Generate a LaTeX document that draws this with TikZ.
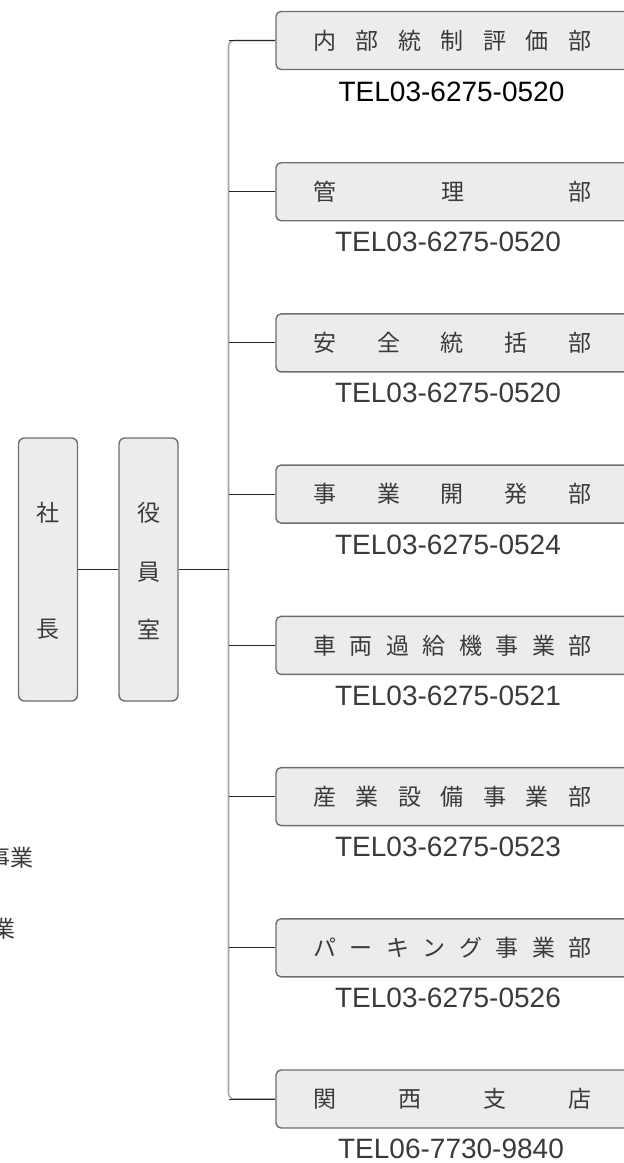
\documentclass[tikz,border=0pt]{standalone}
\usepackage{fontspec}
\setmainfont{Noto Sans CJK JP}
\newfontfamily\telfont{Liberation Sans}
\definecolor{txt}{HTML}{3A3A3A}
\definecolor{boxfill}{HTML}{EDECEA}
\definecolor{boxline}{HTML}{6E6E6E}
\definecolor{trunkc}{HTML}{A8A8A8}
\newcommand\spreadtext[1]{\makebox[364pt][l]{\hspace{37.5pt}\makebox[278pt][s]{#1}}}
\tikzset{
  dept/.style={draw=boxline, line width=1.4pt, fill=boxfill, rounded corners=5pt,
    minimum width=364pt, minimum height=58pt, inner sep=0pt, text=txt,
    font=\fontsize{23pt}{23pt}\selectfont},
  tall/.style={draw=boxline, line width=1.4pt, fill=boxfill, rounded corners=6pt,
    minimum width=59pt, minimum height=263pt, inner sep=0pt},
  chr/.style={text=txt, inner sep=0pt, font=\fontsize{23pt}{23pt}\selectfont},
  tel/.style={text=txt, inner sep=0pt, font=\telfont\fontsize{28pt}{28pt}\selectfont},
  conn/.style={draw=black!85, line width=0.9pt},
  trunk/.style={draw=trunkc, line width=1.6pt, rounded corners=6pt},
}
\begin{document}
\begin{tikzpicture}[x=1pt,y=-1pt]
\useasboundingbox (0,0) rectangle (624,1163);
\clip (0,0) rectangle (624,1163);
% right column boxes
\node[dept] (b1) at (458,40.5) {\spreadtext{内\hfil 部\hfil 統\hfil 制\hfil 評\hfil 価\hfil 部}};
\node[dept] (b2) at (458,191.7) {\spreadtext{管\hfil 理\hfil 部}};
\node[dept] (b3) at (458,342.9) {\spreadtext{安\hfil 全\hfil 統\hfil 括\hfil 部}};
\node[dept] (b4) at (458,494.1) {\spreadtext{事\hfil 業\hfil 開\hfil 発\hfil 部}};
\node[dept] (b5) at (458,645.4) {\spreadtext{車\hfil 両\hfil 過\hfil 給\hfil 機\hfil 事\hfil 業\hfil 部}};
\node[dept] (b6) at (458,796.6) {\spreadtext{産\hfil 業\hfil 設\hfil 備\hfil 事\hfil 業\hfil 部}};
\node[dept] (b7) at (458,947.8) {\spreadtext{パ\hfil ー\hfil キ\hfil ン\hfil グ\hfil 事\hfil 業\hfil 部}};
\node[dept] (b8) at (458,1099) {\spreadtext{関\hfil 西\hfil 支\hfil 店}};
% phone numbers
\node[tel, text=black] (t1) at (451.5,92) {TEL03-6275-0520};
\node[tel] (t2) at (448,241.5) {TEL03-6275-0520};
\node[tel] (t3) at (448,393) {TEL03-6275-0520};
\node[tel] (t4) at (448,544.5) {TEL03-6275-0524};
\node[tel] (t5) at (448,695.5) {TEL03-6275-0521};
\node[tel] (t6) at (448,846.5) {TEL03-6275-0523};
\node[tel] (t7) at (448,998) {TEL03-6275-0526};
\node[tel] (t8) at (451,1148.5) {TEL06-7730-9840};
% left boxes
\node[tall] (pres) at (48,569.5) {};
\node[tall] (exec) at (148.5,569.5) {};
\node[chr] (p1) at (48,513) {社};
\node[chr] (p2) at (48,629) {長};
\node[chr] (e1) at (148.5,513) {役};
\node[chr] (e2) at (148.5,572) {員};
\node[chr] (e3) at (148.5,629) {室};
% partial texts at left edge (cut off in the reference)
\node[chr, anchor=east] (l1) at (34,858) {事業};
\node[chr, anchor=east] (l2) at (16,929) {業};
% connectors
\coordinate (tt) at (228.5,40.5);
\coordinate (tb) at (228.5,1099);
\coordinate (tm) at (228.5,569.5);
\draw[trunk] (b1.west) -- (tt) -- (tb) -- (b8.west);
\foreach \b in {b1,b2,b3,b4,b5,b6,b7,b8}{
  \draw[conn] (\b.west) -- (\b.west -| tm);
}
\draw[conn] (pres.east) -- (exec.west);
\draw[conn] (exec.east) -- (tm);
\end{tikzpicture}
\end{document}
